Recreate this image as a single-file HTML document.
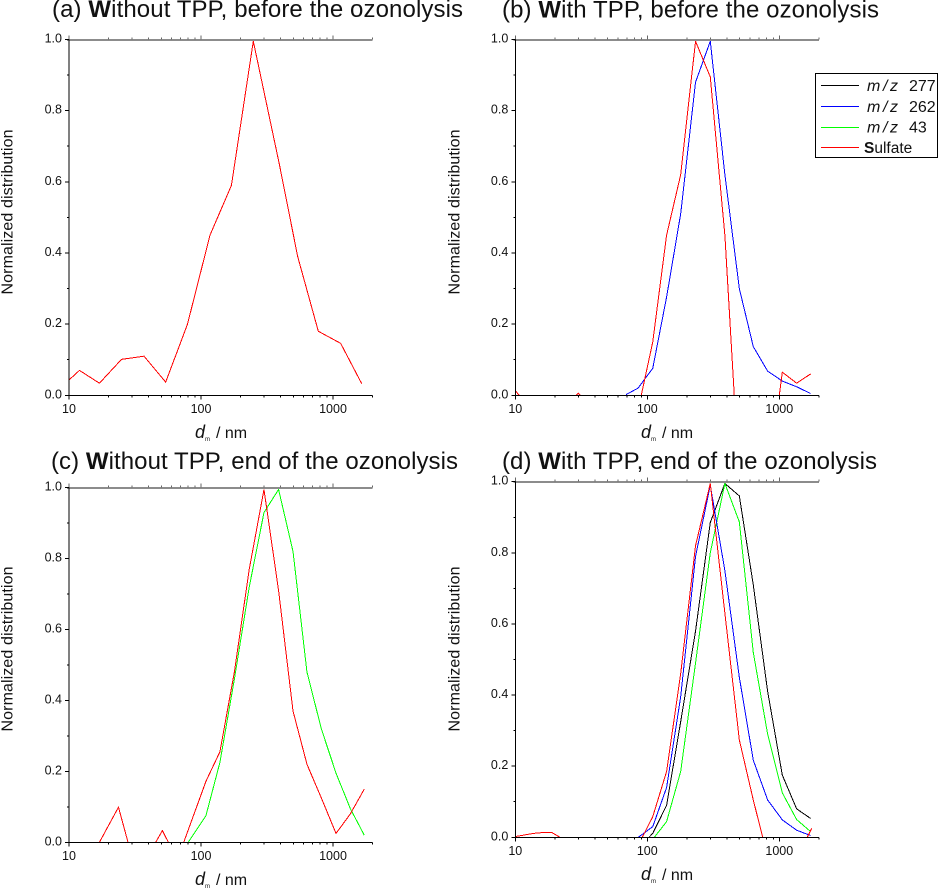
<!DOCTYPE html>
<html lang="en">
<head>
<meta charset="utf-8">
<title>Normalized size distributions</title>
<style>
html,body{margin:0;padding:0;background:#fff;}
svg{display:block;font-family:"Liberation Sans",Arial,sans-serif;}
text{fill:#111;}
</style>
</head>
<body>
<svg id="chart" xmlns="http://www.w3.org/2000/svg" width="939" height="891" viewBox="0 0 939 891">
  <rect width="939" height="891" fill="#fff"/>
  <text x="52" y="17" font-size="24" textLength="411">(a) <tspan font-weight="bold">W</tspan>ithout TPP, before the ozonolysis</text>
  <text x="502" y="17.5" font-size="24" textLength="377">(b) <tspan font-weight="bold">W</tspan>ith TPP, before the ozonolysis</text>
  <text x="51" y="469" font-size="24" textLength="407">(c) <tspan font-weight="bold">W</tspan>ithout TPP, end of the ozonolysis</text>
  <text x="502" y="469" font-size="24" textLength="375">(d) <tspan font-weight="bold">W</tspan>ith TPP, end of the ozonolysis</text>

  <text transform="translate(12.5,212) rotate(-90)" text-anchor="middle" font-size="16" textLength="165">Normalized distribution</text>
  <text transform="translate(459.5,212) rotate(-90)" text-anchor="middle" font-size="16" textLength="165">Normalized distribution</text>
  <text transform="translate(12.5,649) rotate(-90)" text-anchor="middle" font-size="16" textLength="165">Normalized distribution</text>
  <text transform="translate(459.5,649) rotate(-90)" text-anchor="middle" font-size="16" textLength="165">Normalized distribution</text>

  <text y="438" font-size="16"><tspan x="195" font-style="italic" font-size="18">d</tspan><tspan x="205" dy="3" font-size="6">m</tspan><tspan x="216" dy="-3">/ nm</tspan></text>
  <text y="438" font-size="16"><tspan x="641" font-style="italic" font-size="18">d</tspan><tspan x="651" dy="3" font-size="6">m</tspan><tspan x="662" dy="-3">/ nm</tspan></text>
  <text y="885" font-size="16"><tspan x="195" font-style="italic" font-size="18">d</tspan><tspan x="205" dy="3" font-size="6">m</tspan><tspan x="216" dy="-3">/ nm</tspan></text>
  <text y="880" font-size="16"><tspan x="641" font-style="italic" font-size="18">d</tspan><tspan x="651" dy="3" font-size="6">m</tspan><tspan x="662" dy="-3">/ nm</tspan></text>

  <g id="panels"></g>

  <g>
    <rect x="815.5" y="73.5" width="122" height="84" fill="#fff" stroke="#000" stroke-width="1"/>
    <line x1="821" x2="859" y1="85.5" y2="85.5" stroke="#000"/>
    <text x="867" y="91" font-size="16" font-style="italic" textLength="31">m / z</text>
    <text x="909" y="91" font-size="16">277</text>
    <line x1="821" x2="859" y1="106.5" y2="106.5" stroke="#00f"/>
    <text x="867" y="112" font-size="16" font-style="italic" textLength="31">m / z</text>
    <text x="909" y="112" font-size="16">262</text>
    <line x1="821" x2="859" y1="127.5" y2="127.5" stroke="#0f0"/>
    <text x="867" y="132.5" font-size="16" font-style="italic" textLength="31">m / z</text>
    <text x="909" y="132.5" font-size="16">43</text>
    <line x1="821" x2="859" y1="147.5" y2="147.5" stroke="#f00"/>
    <text x="864" y="153" font-size="15.5"><tspan font-weight="bold">S</tspan>ulfate</text>
  </g>
</svg>
<script>
// Axis tick values
const majorXTicks = [10, 100, 1000];
const minorXTicks = [20, 30, 40, 50, 60, 70, 80, 90, 200, 300, 400, 500, 600, 700, 800, 900, 2000];
const xTickLabels = ['10', '100', '1000'];
const majorYTicks = [0, 0.2, 0.4, 0.6, 0.8, 1.0];
const minorYTicks = [0.1, 0.3, 0.5, 0.7, 0.9];
const yTickLabels = ['0.0', '0.2', '0.4', '0.6', '0.8', '1.0'];

// Panel (a)
const aSulfateX = [10, 12, 17, 25, 37, 54, 79, 117, 170, 249, 392, 540, 774, 1143, 1648];
const aSulfateY = [0.043, 0.07, 0.034, 0.101, 0.11, 0.037, 0.2, 0.45, 0.59, 0.995, 0.65, 0.39, 0.18, 0.146, 0.033];

// Panel (b)
const bBlueX = [69, 85, 110, 140, 179, 232, 300, 387, 498, 635, 816, 1054, 1353, 1726];
const bBlueY = [0.002, 0.02, 0.076, 0.276, 0.51, 0.88, 0.995, 0.62, 0.30, 0.137, 0.068, 0.04, 0.024, 0.005];
const bSulfateX = [10, 10.7, 29, 30, 31, 90, 110, 140, 179, 232, 300, 387, 456, 1000, 1054, 1353, 1726];
const bSulfateY = [0.013, 0, 0, 0.006, 0, 0, 0.15, 0.45, 0.62, 0.995, 0.895, 0.45, 0, 0, 0.065, 0.034, 0.06];

// Panel (c)
const cGreenX = [80, 109, 139, 179, 232, 300, 387, 498, 635, 816, 1054, 1353, 1726];
const cGreenY = [0, 0.075, 0.225, 0.46, 0.72, 0.93, 0.995, 0.82, 0.48, 0.32, 0.195, 0.095, 0.02];
const cSulfateX = [17, 23.7, 28, 45.4, 51, 56.6, 74, 109, 139, 179, 232, 300, 387, 498, 635, 816, 1054, 1353, 1726];
const cSulfateY = [0, 0.099, 0, 0, 0.033, 0, 0, 0.172, 0.255, 0.48, 0.77, 0.995, 0.71, 0.37, 0.22, 0.125, 0.025, 0.08, 0.15];

// Panel (d)
const dBlackX = [103, 110, 140, 179, 232, 300, 387, 498, 635, 816, 1054, 1353, 1726];
const dBlackY = [0, 0.011, 0.09, 0.325, 0.58, 0.885, 0.995, 0.96, 0.71, 0.41, 0.175, 0.08, 0.053];
const dBlueX = [85.5, 110, 140, 179, 232, 300, 387, 498, 635, 816, 1054, 1353, 1726];
const dBlueY = [0, 0.03, 0.14, 0.395, 0.79, 0.99, 0.75, 0.45, 0.217, 0.105, 0.049, 0.02, 0.005];
const dGreenX = [113, 140, 179, 232, 300, 387, 498, 635, 816, 1054, 1353, 1726];
const dGreenY = [0, 0.044, 0.185, 0.49, 0.80, 0.995, 0.887, 0.52, 0.29, 0.125, 0.05, 0.016];
const dSulfateX = [10, 13.7, 16.8, 18.8, 21.8, 91.6, 110, 140, 179, 232, 300, 387, 498, 635, 749, 1629, 1758];
const dSulfateY = [0.002, 0.011, 0.014, 0.014, 0, 0, 0.058, 0.185, 0.46, 0.82, 0.995, 0.63, 0.274, 0.105, 0, 0, 0.025];

const svgNS = 'http://www.w3.org/2000/svg';
const root = document.getElementById('panels');

function make(tag, attrs, parent) {
  const el = document.createElementNS(svgNS, tag);
  for (const k in attrs) el.setAttribute(k, attrs[k]);
  parent.appendChild(el);
  return el;
}

function drawPanel(id, left, top, bottom, seriesList) {
  const xAxis = v => left + (Math.log10(v) - 1) * 132;
  const yAxis = v => bottom - (bottom - top) * v;
  const xEnd = xAxis(2000);

  const g = make('g', {}, root);
  
  

  function seg(x1, y1, x2, y2, color, w, name) {
    const l = make('line', {x1: x1, y1: y1, x2: x2, y2: y2, stroke: color, 'stroke-width': w, 'shape-rendering': 'crispEdges'}, g);
    
    
  }

  // series first so the axes sit on top of them, as in the reference
  seriesList.forEach(s => {
    const pts = s.xs.map((x, i) => xAxis(x).toFixed(2) + ',' + yAxis(s.ys[i]).toFixed(2)).join(' ');
    const line = make('polyline', {points: pts, fill: 'none', stroke: s.color, 'stroke-width': 1, 'shape-rendering': 'crispEdges'}, g);
    
    
  });

  // top axis: thick grey line with upward ticks
  seg(left - 2, top + 0.5, xEnd, top + 0.5, '#8c8c8c', 2, 'top-axis');
  majorXTicks.forEach(v => seg(xAxis(v), top, xAxis(v), top - 4, '#666', 1, 'top-major-tick'));
  minorXTicks.forEach(v => seg(xAxis(v), top, xAxis(v), top - 2, '#666', 1, 'top-minor-tick'));

  // left and bottom axes
  seg(left, top, left, bottom, '#000', 1, 'y-axis');
  seg(left - 4, bottom, xEnd, bottom, '#000', 1, 'x-axis');

  majorXTicks.forEach((v, i) => {
    seg(xAxis(v), bottom, xAxis(v), bottom + 4, '#000', 1, 'x-major-tick');
    const t = make('text', {x: xAxis(v), y: bottom + 17.5, 'text-anchor': 'middle', 'font-size': 12.5}, g);
    
    
    t.textContent = xTickLabels[i];
  });
  minorXTicks.forEach(v => seg(xAxis(v), bottom, xAxis(v), bottom + 2, '#000', 1, 'x-minor-tick'));

  majorYTicks.forEach((v, i) => {
    seg(left - 4, yAxis(v), left, yAxis(v), '#000', 1, 'y-major-tick');
    const t = make('text', {x: left - 7, y: yAxis(v) + 3, 'text-anchor': 'end', 'font-size': 12.5}, g);
    
    
    t.textContent = yTickLabels[i];
  });
  minorYTicks.forEach(v => seg(left - 2, yAxis(v), left, yAxis(v), '#000', 1, 'y-minor-tick'));
}

drawPanel('a', 69, 39.5, 395.3, [
  {name: 'sulfate', color: '#f00', xs: aSulfateX, ys: aSulfateY}
]);
drawPanel('b', 515.3, 39.5, 395.3, [
  {name: 'mz-262', color: '#00f', xs: bBlueX, ys: bBlueY},
  {name: 'sulfate', color: '#f00', xs: bSulfateX, ys: bSulfateY}
]);
drawPanel('c', 69, 487.7, 842.3, [
  {name: 'mz-43', color: '#0f0', xs: cGreenX, ys: cGreenY},
  {name: 'sulfate', color: '#f00', xs: cSulfateX, ys: cSulfateY}
]);
drawPanel('d', 515.3, 481.7, 837.3, [
  {name: 'mz-277', color: '#000', xs: dBlackX, ys: dBlackY},
  {name: 'mz-43', color: '#0f0', xs: dGreenX, ys: dGreenY},
  {name: 'mz-262', color: '#00f', xs: dBlueX, ys: dBlueY},
  {name: 'sulfate', color: '#f00', xs: dSulfateX, ys: dSulfateY}
]);
</script>
</body>
</html>
